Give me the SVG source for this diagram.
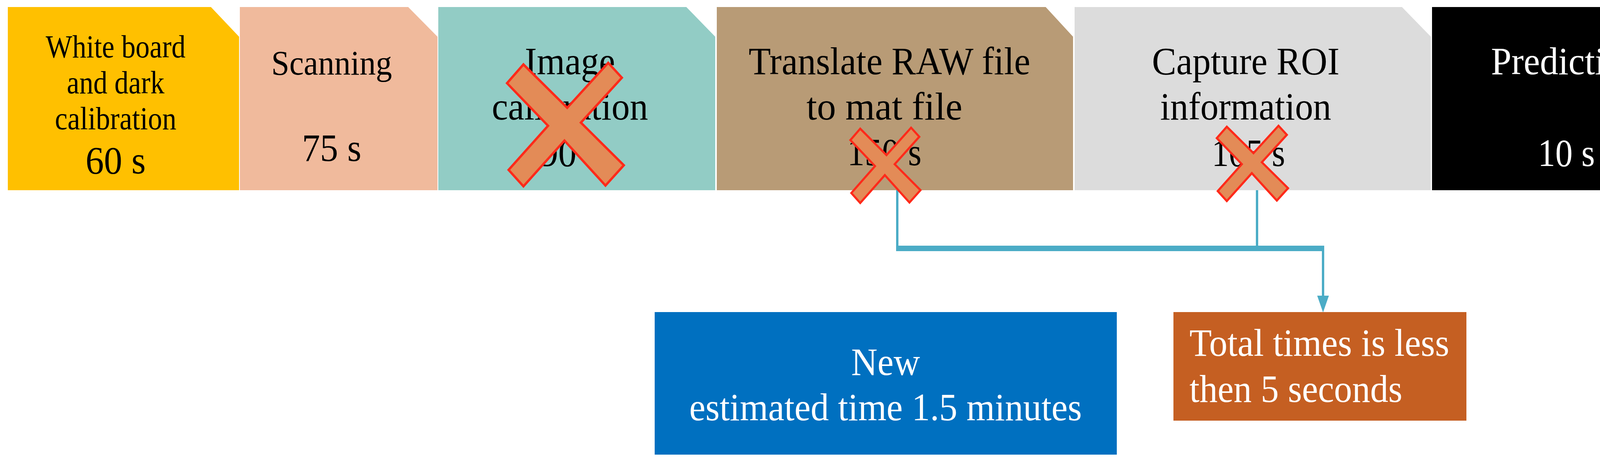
<svg xmlns="http://www.w3.org/2000/svg" width="4399" height="1188" viewBox="0 0 4399 1188">
<style>
text{font-family:"Liberation Serif","Times New Roman",serif;text-anchor:middle;fill:#000}
.w{fill:#fff}
.s{font-size:82px}
.m{font-size:100px}
.x{fill:#E38B57;stroke:#FF2A1A;stroke-width:6;stroke-linejoin:miter}
.c{fill:none;stroke:#4BACC6}
</style>
<defs>
<polygon id="X" points="42,4 154,115 259,0 294,38 189,153 299,262 252,314 147,199 42,316 4,274 105,161 0,52"/>
</defs>
<g id="n1"><polygon points="20,18 540,18 612,94 612,487 20,487" fill="#FFC000"/>
<text class="s" x="296" y="147" textLength="358" lengthAdjust="spacingAndGlyphs">White board</text><text class="s" x="296" y="239" textLength="250" lengthAdjust="spacingAndGlyphs">and dark</text><text class="s" x="296" y="331" textLength="311" lengthAdjust="spacingAndGlyphs">calibration</text><text class="m" x="296" y="444" textLength="154" lengthAdjust="spacingAndGlyphs">60 s</text></g>
<g id="n2"><polygon points="614,18 1045,18 1120,94 1120,487 614,487" fill="#F0BA9C"/>
<text class="m" x="849" y="191" style="font-size:88px" textLength="309" lengthAdjust="spacingAndGlyphs">Scanning</text><text class="m" x="849" y="412" textLength="152" lengthAdjust="spacingAndGlyphs">75 s</text></g>
<g id="n3"><polygon points="1122,18 1757,18 1831,94 1831,487 1122,487" fill="#92CCC5"/>
<text class="m" x="1459" y="190" textLength="231" lengthAdjust="spacingAndGlyphs">Image</text><text class="m" x="1459" y="306" textLength="400" lengthAdjust="spacingAndGlyphs">calibration</text><text class="m" x="1459" y="425" textLength="154" lengthAdjust="spacingAndGlyphs">90 s</text>
<use href="#X" class="x" transform="translate(1298,161)"/></g>
<g id="n4"><polygon points="1835,18 2677,18 2747,94 2747,487 1835,487" fill="#B89B76"/>
<text class="m" x="2277" y="190" textLength="721" lengthAdjust="spacingAndGlyphs">Translate RAW file</text><text class="m" x="2264" y="306" textLength="399" lengthAdjust="spacingAndGlyphs">to mat file</text><text class="m" x="2264" y="423" textLength="190" lengthAdjust="spacingAndGlyphs">150 s</text></g>
<g id="n5"><polygon points="2751,18 3589,18 3663,94 3663,487 2751,487" fill="#DCDCDC"/>
<text class="m" x="3189" y="190" textLength="480" lengthAdjust="spacingAndGlyphs">Capture ROI</text><text class="m" x="3189" y="306" textLength="438" lengthAdjust="spacingAndGlyphs">information</text><text class="m" x="3196" y="425" textLength="188" lengthAdjust="spacingAndGlyphs">105 s</text></g>
<g id="n6"><polygon points="3666,18 4305,18 4379,94 4379,487 3666,487" fill="#000"/>
<text class="m w" x="4010" y="190" textLength="386" lengthAdjust="spacingAndGlyphs">Prediction</text><text class="m w" x="4010" y="425" textLength="146" lengthAdjust="spacingAndGlyphs">10 s</text></g>
<g id="connectors">
<path class="c" d="M2297,487 V636" stroke-width="6"/>
<path class="c" d="M3218,487 V636" stroke-width="6"/>
<path class="c" d="M2294,636 H3390" stroke-width="14"/>
<path class="c" d="M3387,636 V765" stroke-width="6"/>
<polygon points="3372,757 3402,757 3387,800" fill="#4BACC6"/>
</g>
<g id="marks">
<use href="#X" class="x" transform="translate(2177,327) scale(0.6,0.61)" style="stroke-width:9"/>
<use href="#X" class="x" transform="translate(3115,322) scale(0.61,0.61)" style="stroke-width:9"/>
</g>
<g id="n7"><rect x="1676" y="799" width="1183" height="365" fill="#0070C0"/>
<text class="m w" x="2267" y="960" textLength="176" lengthAdjust="spacingAndGlyphs">New</text><text class="m w" x="2267" y="1076" textLength="1005" lengthAdjust="spacingAndGlyphs">estimated time 1.5 minutes</text></g>
<g id="n8"><rect x="3004" y="799" width="750" height="278" fill="#C55F22"/>
<text class="m w" x="3045" y="911" style="text-anchor:start" textLength="665" lengthAdjust="spacingAndGlyphs">Total times is less</text><text class="m w" x="3045" y="1029" style="text-anchor:start" textLength="545" lengthAdjust="spacingAndGlyphs">then 5 seconds</text></g>
</svg>
